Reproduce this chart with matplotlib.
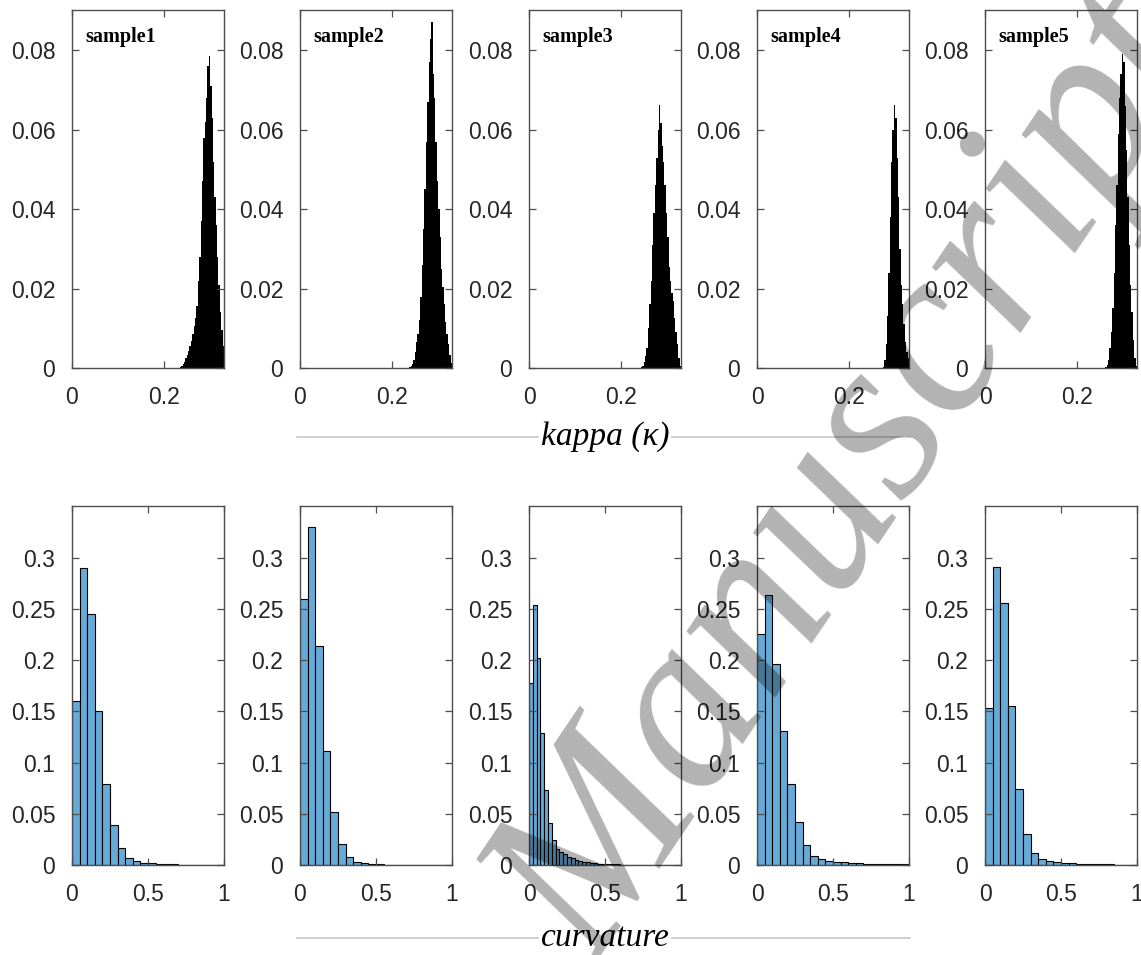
import numpy as np
import matplotlib
matplotlib.use("Agg")
import matplotlib.pyplot as plt
from matplotlib.lines import Line2D

# kappa histograms (top row), bins of 0.003 starting at 0.234
kappa_start = 0.234
kappa_width = 0.003
kappa1 = [0.0002, 0.0005, 0.001, 0.0015, 0.0025, 0.0033, 0.0042, 0.0055, 0.0067, 0.0085, 0.0105,
          0.0125, 0.0155, 0.022, 0.028, 0.037, 0.047, 0.058, 0.062, 0.068, 0.076, 0.0787, 0.071,
          0.063, 0.052, 0.043, 0.036, 0.028, 0.021, 0.014, 0.0095, 0.0055, 0.003]
kappa2 = [0.0001, 0.0003, 0.0006, 0.001, 0.002, 0.004, 0.0065, 0.0085, 0.012, 0.018, 0.026,
          0.035, 0.045, 0.057, 0.067, 0.077, 0.083, 0.0871, 0.074, 0.068, 0.057, 0.047, 0.040,
          0.033, 0.025, 0.0205, 0.016, 0.0115, 0.0085, 0.006, 0.0033, 0.0012, 0.0003]
kappa3 = [0, 0, 0, 0.0002, 0.0006, 0.0014, 0.003, 0.005, 0.010, 0.016, 0.022,
          0.031, 0.039, 0.046, 0.053, 0.060, 0.0662, 0.0618, 0.056, 0.052, 0.046, 0.039, 0.033,
          0.0255, 0.022, 0.019, 0.017, 0.0125, 0.009, 0.006, 0.0025, 0.0005, 0]
kappa4 = [0, 0, 0, 0, 0, 0, 0, 0, 0, 0, 0,
          0, 0, 0.0003, 0.002, 0.006, 0.013, 0.024, 0.038, 0.052, 0.060, 0.0662, 0.063,
          0.053, 0.043, 0.030, 0.021, 0.016, 0.011, 0.0065, 0.004, 0.0025, 0.0005]
kappa5 = [0, 0, 0, 0, 0, 0, 0, 0, 0.0001, 0.0003, 0.0008,
          0.002, 0.005, 0.009, 0.015, 0.024, 0.036, 0.046, 0.059, 0.068, 0.074, 0.0792, 0.077,
          0.066, 0.055, 0.043, 0.031, 0.021, 0.014, 0.007, 0.0025, 0.0005, 0]

# curvature histograms (bottom row)
curv_width = [0.05, 0.05, 0.025, 0.05, 0.05]
curv1 = [0.160, 0.290, 0.245, 0.150, 0.079, 0.0387, 0.0169, 0.0068, 0.0039, 0.0023,
         0.0015, 0.001, 0.0007, 0.0005, 0.0004, 0.0003, 0.0002, 0.0002, 0.0001, 0.0001]
curv2 = [0.260, 0.330, 0.214, 0.111, 0.0514, 0.0208, 0.0078, 0.0033, 0.0015, 0.0008,
         0.0005, 0.0003, 0.0002, 0.0001, 0.0001, 0.0001, 0, 0, 0, 0]
curv3 = [0.178, 0.254, 0.202, 0.1285, 0.0732, 0.0407, 0.024, 0.016, 0.013, 0.0104,
         0.008, 0.0065, 0.005, 0.004, 0.0033, 0.0027, 0.0022, 0.0018, 0.0014, 0.0011,
         0.0009, 0.0007, 0.0006, 0.0005, 0.0004, 0.0003, 0.0003, 0.0002, 0.0002, 0.0001,
         0.0001, 0.0001, 0, 0, 0, 0, 0, 0, 0, 0]
curv4 = [0.2255, 0.2636, 0.196, 0.131, 0.0788, 0.0417, 0.0195, 0.0091, 0.0055, 0.0039,
         0.003, 0.0025, 0.002, 0.0016, 0.0013, 0.0011, 0.0009, 0.0007, 0.0006, 0.0005]
curv5 = [0.153, 0.291, 0.256, 0.155, 0.0739, 0.0303, 0.0117, 0.0059, 0.0039, 0.0029,
         0.002, 0.0016, 0.0013, 0.001, 0.0008, 0.0006, 0.0005, 0.0004, 0.0003, 0.0002]

sample_names = ["sample1", "sample2", "sample3", "sample4", "sample5"]
kappa_all = [kappa1, kappa2, kappa3, kappa4, kappa5]
curv_all = [curv1, curv2, curv3, curv4, curv5]

kappa_yticks = [0, 0.02, 0.04, 0.06, 0.08]
kappa_yticklabels = ["0", "0.02", "0.04", "0.06", "0.08"]
kappa_xticks = [0, 0.2]
kappa_xticklabels = ["0", "0.2"]
curv_yticks = [0, 0.05, 0.1, 0.15, 0.2, 0.25, 0.3]
curv_yticklabels = ["0", "0.05", "0.1", "0.15", "0.2", "0.25", "0.3"]
curv_xticks = [0, 0.5, 1]
curv_xticklabels = ["0", "0.5", "1"]

W, H = 1141, 955
fig = plt.figure(figsize=(W / 100, H / 100), dpi=100)

lefts = [72, 300, 529, 757, 985]
ax_w = 152
tick_font = "Liberation Sans"
axis_col = "#4d4d4d"
text_col = "#262626"


def style_axes(ax):
    for s in ax.spines.values():
        s.set_color(axis_col)
        s.set_linewidth(1.0)
    ax.tick_params(direction="in", top=True, right=True, length=5, width=0.9,
                   color=axis_col, labelcolor=text_col, labelsize=16.5)
    ax.tick_params(axis="y", pad=12)
    ax.tick_params(axis="x", pad=13)
    for lab in ax.get_xticklabels() + ax.get_yticklabels():
        lab.set_fontfamily(tick_font)


for i in range(5):
    # top row: kappa
    ax = fig.add_axes([lefts[i] / W, 1 - 368 / H, ax_w / W, 358 / H])
    heights = np.array(kappa_all[i])
    edges = kappa_start + kappa_width * np.arange(len(heights) + 1)
    ax.stairs(heights, edges, fill=True, color="black", linewidth=0)
    ax.set_xlim(0, 0.33)
    ax.set_ylim(0, 0.0902)
    ax.set_xticks(kappa_xticks)
    ax.set_xticklabels(kappa_xticklabels)
    ax.set_yticks(kappa_yticks)
    ax.set_yticklabels(kappa_yticklabels)
    style_axes(ax)
    ax.text(0.09, 0.925, sample_names[i], transform=ax.transAxes, va="center", ha="left",
            fontsize=14.5, fontweight="bold", fontfamily="Liberation Serif", color="black")

    # bottom row: curvature
    ax2 = fig.add_axes([lefts[i] / W, 1 - 865 / H, ax_w / W, 359 / H])
    ch = np.array(curv_all[i])
    cedges = curv_width[i] * np.arange(len(ch))
    ax2.bar(cedges, ch, width=curv_width[i], align="edge", color="#66AAD7",
            edgecolor="black", linewidth=0.8)
    ax2.set_xlim(0, 1)
    ax2.set_ylim(0, 0.3505)
    ax2.set_xticks(curv_xticks)
    ax2.set_xticklabels(curv_xticklabels)
    ax2.set_yticks(curv_yticks)
    ax2.set_yticklabels(curv_yticklabels)
    style_axes(ax2)

# shared x labels with a thin rule behind them
for y_px, label in [(437, "kappa (\u03ba)"), (938, "curvature")]:
    yf = 1 - y_px / H
    fig.add_artist(Line2D([297 / W, 910 / W], [yf, yf], color="#c8c8c8", linewidth=1.2))
    fig.text(605 / W, yf, label, ha="center", va="center", fontsize=24, style="italic",
             fontfamily="Liberation Serif", color="black",
             bbox=dict(facecolor="white", edgecolor="none", pad=1))

# watermark
fig.text(855 / W, 1 - 480 / H, "Manuscript", ha="center", va="center", rotation=56,
         fontsize=172, style="italic", fontfamily="Liberation Serif", color="black",
         alpha=0.3, zorder=20)

fig.savefig("out.png", dpi=100)
